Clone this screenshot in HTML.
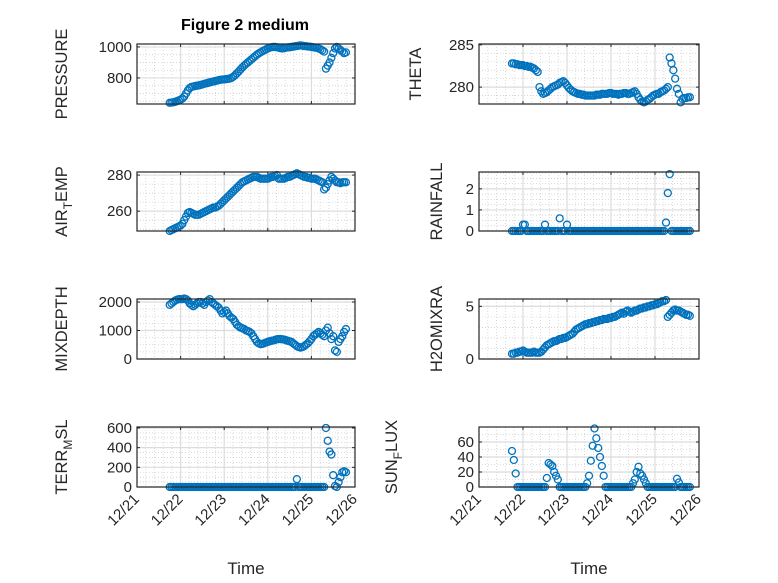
<!DOCTYPE html>
<html><head><meta charset="utf-8">
<style>
html,body{margin:0;padding:0;background:#fff;}
svg{display:block;font-family:"Liberation Sans",sans-serif;}
</style></head>
<body>
<svg id="fig" width="778" height="583" viewBox="0 0 778 583" xmlns="http://www.w3.org/2000/svg">
<rect x="0" y="0" width="778" height="583" fill="#ffffff"/>
<text x="245" y="30" text-anchor="middle" font-size="16" font-weight="bold" fill="#000">Figure 2 medium</text>
</svg>
<script>
// Sample times (hours after 12/21 00:00)
const times = [18,19,20,21,22,23,24,25,26,27,
28,29,30,31,32,33,34,35,36,37,
38,39,40,41,42,43,44,45,46,47,
48,49,50,51,52,53,54,55,56,57,
58,59,60,61,62,63,64,65,66,67,
68,69,70,71,72,73,74,75,76,77,
78,79,80,81,82,83,84,85,86,87,
88,89,90,91,92,93,94,95,96,97,
98,99,100,101,102,103,104,105,106,107,
108,109,110,111,112,113,114,115];
const xTickLabels = ["12/21","12/22","12/23","12/24","12/25","12/26"];
const pressure = [640,641,643,646,650,655,660,668,680,700,
720,735,742,745,748,750,752,755,758,762,
765,768,771,774,777,780,783,786,788,790,
791,792,794,796,800,808,818,830,842,855,
868,880,890,900,910,920,930,940,950,958,
965,972,978,984,990,995,998,1000,1000,998,
995,992,990,992,995,997,998,1000,1002,1004,
1006,1008,1010,1008,1006,1005,1003,1002,1000,998,
996,994,990,985,978,970,860,880,900,930,
960,990,1000,990,980,970,960,965];
const airTemp = [249,249.5,250,250.5,251,251.5,252,253,255,257,
259,259.5,259,258.5,258,258,258,258.5,259,259.5,
260,260.5,261,261.5,262,262,262.5,263,264,265,
266,267,268,269,270,271,272,273,274,275,
276,276.5,277,277.5,278,278.5,279,279,279,278.5,
278,278,278,278,278,278.5,279,279,279.5,280,
278,278,278,278,278.5,279,279,279.5,280,280.5,
281,280.5,280,279.5,279,279,278.5,278.5,278,278,
278,277.5,277,276.5,276,272,273,275,277,279,
278,277,276,276,275.5,276,276,276];
const theta = [282.8,282.8,282.7,282.7,282.6,282.6,282.6,282.5,282.5,282.4,
282.4,282.3,282.2,282.0,281.8,280.0,279.5,279.2,279.3,279.4,
279.6,279.8,280.0,280.1,280.2,280.3,280.5,280.6,280.7,280.5,
280.2,279.9,279.7,279.5,279.4,279.3,279.2,279.2,279.1,279.1,
279.0,279.0,279.0,279.0,279.0,279.0,279.1,279.1,279.1,279.2,
279.2,279.2,279.2,279.3,279.3,279.2,279.2,279.2,279.1,279.2,
279.2,279.3,279.3,279.2,279.2,279.3,279.4,279.5,279.2,278.8,
278.5,278.3,278.2,278.3,278.5,278.6,278.8,279.0,279.1,279.2,
279.2,279.4,279.5,279.6,279.8,280.0,283.5,282.8,282.0,281.0,
279.8,279.2,278.2,278.6,278.7,278.7,278.8,278.8];
const rainfall = [0,0,0,0,0,0,0.3,0.3,0,0,
0,0,0,0,0,0,0,0,0.3,0,
0,0,0,0,0,0,0.6,0,0,0,
0.3,0,0,0,0,0,0,0,0,0,
0,0,0,0,0,0,0,0,0,0,
0,0,0,0,0,0,0,0,0,0,
0,0,0,0,0,0,0,0,0,0,
0,0,0,0,0,0,0,0,0,0,
0,0,0,0,0.4,1.8,2.7,0,0,0,
0,0,0,0,0,0,0,0];
const mixDepth = [1900,1950,2000,2050,2080,2100,2100,2100,2120,2100,
2050,1950,1900,1850,1900,1950,2000,2000,1950,1900,
2000,2050,2100,2000,1950,1900,1850,1800,1700,1600,
1650,1700,1600,1500,1450,1400,1300,1200,1150,1100,
1080,1050,1000,980,950,900,800,700,600,550,
520,530,550,580,600,620,640,650,670,690,
700,700,690,680,660,640,620,600,550,500,
450,420,400,420,450,500,550,620,700,800,
850,900,950,900,850,800,1000,1100,900,700,
800,300,250,600,700,800,950,1050];
const terrMsl = [0,0,0,0,0,0,0,0,0,0,
0,0,0,0,0,0,0,0,0,0,
0,0,0,0,0,0,0,0,0,0,
0,0,0,0,0,0,0,0,0,0,
0,0,0,0,0,0,0,0,0,0,
0,0,0,0,0,0,0,0,0,0,
0,0,0,0,0,0,0,0,0,0,
80,0,0,0,0,0,0,0,0,0,
0,0,0,0,0,0,600,470,360,330,
120,10,0,50,100,150,160,150];
const h2oMix = [0.5,0.5,0.6,0.6,0.7,0.7,0.8,0.7,0.6,0.6,
0.6,0.6,0.7,0.6,0.6,0.6,0.7,0.9,1.1,1.3,
1.4,1.5,1.6,1.7,1.7,1.8,1.9,1.9,2.0,2.0,
2.1,2.2,2.3,2.4,2.6,2.8,2.9,3.0,3.1,3.2,
3.3,3.3,3.4,3.4,3.5,3.5,3.6,3.6,3.7,3.7,
3.8,3.8,3.8,3.9,3.9,4.0,4.0,4.1,4.2,4.3,
4.4,4.3,4.5,4.6,4.5,4.4,4.5,4.6,4.6,4.7,
4.8,4.8,4.9,4.9,5.0,5.0,5.1,5.1,5.2,5.2,
5.3,5.4,5.5,5.5,5.6,4.0,4.2,4.4,4.6,4.7,
4.6,4.6,4.5,4.4,4.3,4.2,4.2,4.1];
const sunFlux = [48,36,18,0,0,0,0,0,0,0,
0,0,0,0,0,0,0,0,0,12,
32,30,28,20,15,10,0,0,0,0,
0,0,0,0,0,0,0,0,0,0,
0,5,15,35,55,78,65,52,40,28,
15,0,0,0,0,0,0,0,0,0,
0,0,0,0,0,0,5,10,20,27,
18,15,10,5,0,0,0,0,0,0,
0,0,0,0,0,0,0,0,0,0,
11,6,0,0,0,0,0,0];

const svg = document.getElementById('fig');
const NS = 'http://www.w3.org/2000/svg';
function mk(tag, attrs, parent){
  const e = document.createElementNS(NS, tag);
  for (const k in attrs) e.setAttribute(k, attrs[k]);
  (parent||svg).appendChild(e);
  return e;
}

const panels = [
  {id:'pressure', x0:137,y0:44,w:218,h:60, ymin:632, ymax:1019, ticks:[800,1000], minor:50, label:['PRESSURE'], lx:67, vals:pressure},
  {id:'theta', x0:479,y0:44,w:220,h:60, ymin:278, ymax:285.1, ticks:[280,285], minor:1, label:['THETA'], lx:421, vals:theta},
  {id:'air-temp', x0:137,y0:172,w:218,h:59, ymin:249, ymax:281.7, ticks:[260,280], minor:5, label:['AIR','T','EMP'], lx:67, vals:airTemp},
  {id:'rainfall', x0:479,y0:172,w:220,h:59, ymin:0, ymax:2.8, ticks:[0,1,2], minor:0.25, label:['RAINFALL'], lx:442, vals:rainfall},
  {id:'mixdepth', x0:137,y0:299,w:218,h:60, ymin:0, ymax:2105, ticks:[0,1000,2000], minor:250, label:['MIXDEPTH'], lx:67, vals:mixDepth},
  {id:'h2omixra', x0:479,y0:299,w:220,h:60, ymin:0, ymax:5.7, ticks:[0,5], minor:1, label:['H2OMIXRA'], lx:442, vals:h2oMix},
  {id:'terr-msl', x0:137,y0:427,w:218,h:60, ymin:0, ymax:610, ticks:[0,200,400,600], minor:50, label:['TERR','M','SL'], lx:67, vals:terrMsl},
  {id:'sun-flux', x0:479,y0:427,w:220,h:60, ymin:0, ymax:80, ticks:[0,20,40,60], minor:10, label:['SUN','F','LUX'], lx:397, vals:sunFlux}
];

panels.forEach((p, pi) => {
  const g = mk('g', {});
  
  
  const xs = h => p.x0 + (h / 120) * p.w;
  const ys = v => p.y0 + p.h - (v - p.ymin) / (p.ymax - p.ymin) * p.h;
  for (let h = 4.8; h < 120; h += 4.8) {
    if (Math.abs(h/24 - Math.round(h/24)) < 1e-6) continue;
    const l = mk('line', {x1:xs(h), x2:xs(h), y1:p.y0, y2:p.y0+p.h, stroke:'#d0d0d0', 'stroke-width':0.8, 'stroke-dasharray':'1,2'}, g);
    
    
  }
  const start = Math.ceil(p.ymin / p.minor) * p.minor;
  for (let v = start; v <= p.ymax + 1e-9; v += p.minor) {
    const l = mk('line', {x1:p.x0, x2:p.x0+p.w, y1:ys(v), y2:ys(v), stroke:'#d0d0d0', 'stroke-width':0.8, 'stroke-dasharray':'1,2'}, g);
    
    
  }
  for (let i = 1; i < 5; i++) {
    const l = mk('line', {x1:xs(i*24), x2:xs(i*24), y1:p.y0, y2:p.y0+p.h, stroke:'#dcdcdc', 'stroke-width':1.2}, g);
    
    
  }
  p.ticks.forEach(v => {
    const l = mk('line', {x1:p.x0, x2:p.x0+p.w, y1:ys(v), y2:ys(v), stroke:'#dcdcdc', 'stroke-width':1.2}, g);
    
    
    const tl = mk('line', {x1:p.x0, x2:p.x0+3, y1:ys(v), y2:ys(v), stroke:'#262626', 'stroke-width':1}, g);
    
    
    const tr = mk('line', {x1:p.x0+p.w, x2:p.x0+p.w-3, y1:ys(v), y2:ys(v), stroke:'#262626', 'stroke-width':1}, g);
    
    
    const tx = mk('text', {x:p.x0-5, y:ys(v)+5, 'text-anchor':'end', 'font-size':15, fill:'#262626'}, g);
    tx.textContent = String(v);
    
    
  });
  for (let i = 0; i <= 5; i++) {
    const a = mk('line', {x1:xs(i*24), x2:xs(i*24), y1:p.y0+p.h, y2:p.y0+p.h-3, stroke:'#262626', 'stroke-width':1}, g);
    
    
    const b = mk('line', {x1:xs(i*24), x2:xs(i*24), y1:p.y0, y2:p.y0+3, stroke:'#262626', 'stroke-width':1}, g);
    
    
  }
  p.vals.forEach((v, i) => {
    const c = mk('circle', {cx:xs(times[i]), cy:ys(v), r:3.5, fill:'none', stroke:'#0072BD', 'stroke-width':1.3}, g);
    
    
  });
  const box = mk('rect', {x:p.x0, y:p.y0, width:p.w, height:p.h, fill:'none', stroke:'#262626', 'stroke-width':1.2}, g);
  
  
  const cy = p.y0 + p.h/2;
  const yl = mk('text', {x:p.lx, y:cy, 'text-anchor':'middle', 'font-size':16.5, fill:'#262626', transform:'rotate(-90 '+p.lx+' '+cy+')'}, g);
  
  
  if (p.label.length === 1) {
    yl.textContent = p.label[0];
  } else {
    const s1 = mk('tspan', {}, yl); s1.textContent = p.label[0];
    const s2 = mk('tspan', {dy:5, 'font-size':12}, yl); s2.textContent = p.label[1];
    const s3 = mk('tspan', {dy:-5}, yl); s3.textContent = p.label[2];
  }
  if (pi >= 6) {
    xTickLabels.forEach((lab, i) => {
      const x = xs(i*24) + 3, y = p.y0 + p.h + 13;
      const t = mk('text', {x:x, y:y, 'text-anchor':'end', 'font-size':15, fill:'#262626', transform:'rotate(-45 '+x+' '+y+')'}, g);
      t.textContent = lab;
      
      
    });
    const xl = mk('text', {x:p.x0+p.w/2, y:574, 'text-anchor':'middle', 'font-size':17, fill:'#262626'}, g);
    xl.textContent = 'Time';
    
    
  }
});
</script>
</body></html>
